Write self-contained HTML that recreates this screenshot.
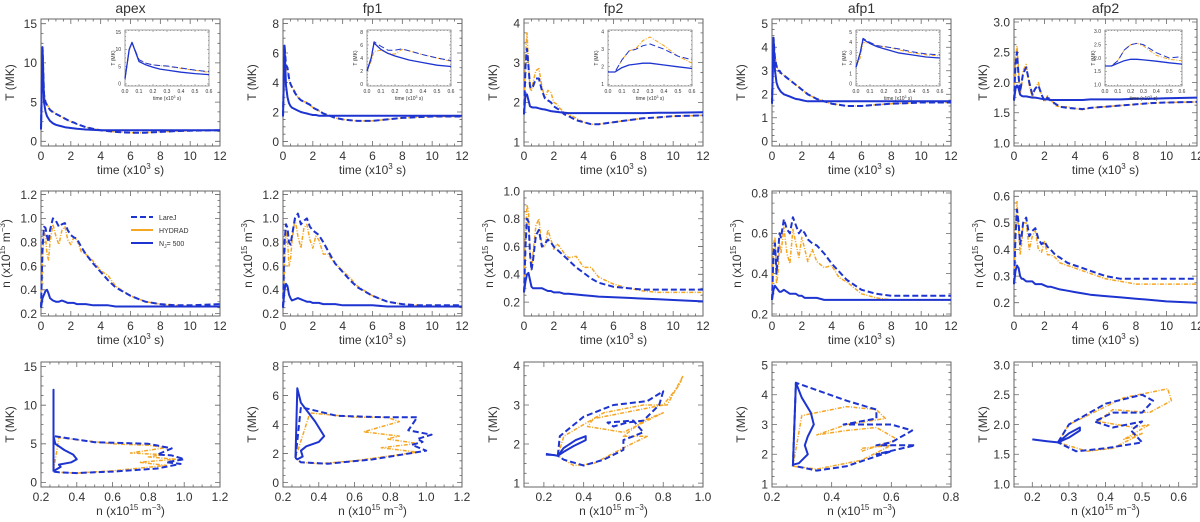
<!DOCTYPE html>
<html><head><meta charset="utf-8">
<style>
html,body{margin:0;padding:0;background:#fff;}
svg{display:block;font-family:"Liberation Sans",sans-serif;}
</style></head>
<body>
<svg id="fig" width="1200" height="522" viewBox="0 0 1200 522" xmlns="http://www.w3.org/2000/svg"></svg>
<script>
// ---------- DATA ----------
const panelNames = ["apex","fp1","fp2","afp1","afp2"];
const timeGrid = [0,0.1,0.2,0.3,0.4,0.5,0.6,0.8,1.0,1.2,1.4,1.6,1.8,2.0,2.2,2.4,2.7,3.0,3.5,4,4.5,5,6,7,8,9,10,12];
const insetGrid = [0,0.03,0.05,0.1,0.15,0.2,0.25,0.3,0.4,0.5,0.6];

// Temperature (MK) vs time
const tempLareJ = [
 [1.5,12,6,5,4.6,4.3,4,3.7,3.5,3.3,3.1,2.9,2.7,2.5,2.4,2.2,2.0,1.8,1.6,1.4,1.3,1.2,1.1,1.1,1.2,1.3,1.35,1.4],
 [1.7,6.5,5.2,5.0,4.3,3.9,3.7,3.3,3.0,2.8,2.7,2.6,2.5,2.3,2.2,2.1,1.9,1.8,1.6,1.5,1.45,1.4,1.4,1.5,1.6,1.65,1.7,1.7],
 [1.7,2.9,3.35,2.9,2.4,2.35,2.4,2.6,2.6,2.3,2.1,2.05,2.0,1.9,1.85,1.8,1.7,1.65,1.55,1.5,1.45,1.45,1.5,1.55,1.6,1.62,1.65,1.67],
 [1.6,4.4,3.5,3.2,3.0,3.0,2.9,2.8,2.7,2.6,2.5,2.4,2.3,2.2,2.1,2.0,1.9,1.8,1.7,1.6,1.55,1.5,1.5,1.55,1.6,1.62,1.65,1.65],
 [1.7,2.3,2.5,2.1,1.85,2.0,2.15,2.25,2.0,1.8,1.9,1.95,1.8,1.7,1.75,1.7,1.65,1.6,1.58,1.57,1.56,1.58,1.6,1.62,1.64,1.66,1.67,1.68]];
const tempHydrad = [
 [1.5,11.8,6,5.1,4.7,4.4,4.1,3.8,3.5,3.3,3.1,2.9,2.7,2.5,2.4,2.2,2.0,1.8,1.6,1.4,1.3,1.2,1.1,1.1,1.2,1.3,1.35,1.4],
 [1.7,4.5,5,4.8,4.2,3.9,3.7,3.4,3.0,2.8,2.7,2.65,2.5,2.3,2.2,2.1,1.9,1.8,1.6,1.5,1.45,1.4,1.4,1.5,1.6,1.65,1.7,1.7],
 [1.7,3.2,3.75,3.0,2.35,2.3,2.5,2.8,2.85,2.4,2.1,2.3,2.25,2.0,1.95,1.85,1.75,1.7,1.6,1.5,1.45,1.45,1.5,1.55,1.6,1.62,1.65,1.67],
 [1.6,3.5,3.6,3.3,3.0,2.9,2.9,2.8,2.7,2.6,2.5,2.4,2.3,2.2,2.1,2.0,1.9,1.8,1.7,1.6,1.55,1.5,1.5,1.55,1.6,1.62,1.65,1.65],
 [1.7,2.4,2.6,2.2,1.8,1.95,2.2,2.3,1.95,1.75,1.9,2.0,1.8,1.68,1.78,1.72,1.62,1.6,1.6,1.57,1.55,1.58,1.6,1.62,1.64,1.66,1.67,1.68]];
const tempN500 = [
 [1.5,12,5,3.8,3.2,2.9,2.6,2.3,2.1,2.0,1.9,1.8,1.75,1.7,1.65,1.6,1.55,1.5,1.45,1.4,1.4,1.4,1.4,1.4,1.4,1.4,1.4,1.4],
 [1.7,6.5,3.8,3.0,2.6,2.4,2.3,2.2,2.1,2.0,1.95,1.9,1.85,1.8,1.8,1.75,1.75,1.75,1.75,1.75,1.75,1.75,1.75,1.75,1.75,1.75,1.75,1.75],
 [1.7,2.2,2.2,2.05,1.9,1.88,1.87,1.87,1.85,1.83,1.82,1.8,1.78,1.77,1.76,1.75,1.74,1.73,1.73,1.73,1.73,1.73,1.73,1.73,1.73,1.74,1.74,1.75],
 [1.6,4.4,3.0,2.5,2.3,2.2,2.1,2.0,1.95,1.9,1.85,1.8,1.78,1.75,1.72,1.7,1.7,1.7,1.7,1.7,1.7,1.7,1.7,1.7,1.7,1.7,1.7,1.7],
 [1.7,1.9,1.95,1.9,1.8,1.78,1.77,1.77,1.76,1.75,1.75,1.74,1.73,1.72,1.72,1.71,1.71,1.71,1.71,1.71,1.71,1.72,1.72,1.72,1.73,1.73,1.74,1.75]];

// Inset temperatures (first 0.6 x10^3 s)
const insetLareJ = [
 [1.5,10,12,7,6,5.5,5.3,5.2,4.6,4,3.5],
 [2,4,6.5,5.8,5.2,5.2,5.4,5.1,4.5,4.0,3.6],
 [1.7,1.7,1.7,2.4,2.9,3.0,3.2,3.3,3.0,2.6,2.4],
 [1.6,3,4.4,4,3.7,3.6,3.5,3.4,3.1,2.9,2.8],
 [1.7,1.7,1.7,1.9,2.3,2.5,2.55,2.5,2.2,2.0,2.05]];
const insetHydrad = [
 [1.5,9.5,11.8,7,6,5.5,5.3,5.1,4.5,3.9,3.4],
 [2,3.5,5,5.2,4.7,4.6,5.3,5.1,4.5,4.0,3.5],
 [1.7,1.7,1.7,2.4,2.9,3.05,3.5,3.7,3.2,2.6,2.2],
 [1.6,2.5,4,3.9,3.7,3.6,3.5,3.3,3.0,2.8,2.7],
 [1.7,1.7,1.7,1.9,2.3,2.5,2.55,2.45,2.1,1.95,1.9]];
const insetN500 = [
 [1.5,10,12,6.5,5.5,4.8,4.3,4,3.4,3,2.7],
 [2,4,6.3,5.3,4.7,4.3,4.0,3.7,3.3,2.9,2.7],
 [1.7,1.7,1.7,1.95,2.1,2.15,2.2,2.2,2.1,2.0,1.9],
 [1.6,3,4.3,3.9,3.6,3.4,3.2,3.0,2.8,2.6,2.5],
 [1.7,1.7,1.7,1.8,1.9,1.95,1.95,1.93,1.88,1.82,1.77]];

// Density (x10^15 m^-3) vs time
const densLareJ = [
 [0.25,0.75,0.93,0.92,0.85,0.8,0.9,1.0,0.98,0.93,0.95,0.96,0.9,0.86,0.84,0.83,0.76,0.7,0.62,0.55,0.48,0.42,0.35,0.3,0.28,0.27,0.27,0.28],
 [0.25,0.8,0.95,0.92,0.8,0.78,0.85,1.0,1.04,0.95,0.98,1.0,0.93,0.9,0.88,0.86,0.8,0.73,0.62,0.55,0.48,0.42,0.35,0.3,0.28,0.27,0.27,0.27],
 [0.27,0.6,0.8,0.78,0.55,0.43,0.5,0.68,0.72,0.6,0.62,0.65,0.63,0.6,0.58,0.56,0.53,0.5,0.45,0.41,0.37,0.34,0.31,0.3,0.29,0.29,0.29,0.29],
 [0.27,0.5,0.55,0.4,0.5,0.6,0.58,0.67,0.62,0.6,0.68,0.64,0.6,0.62,0.6,0.57,0.55,0.54,0.5,0.45,0.41,0.37,0.32,0.3,0.29,0.29,0.29,0.29],
 [0.27,0.45,0.55,0.5,0.42,0.45,0.5,0.52,0.45,0.47,0.48,0.44,0.42,0.43,0.41,0.4,0.38,0.37,0.35,0.34,0.33,0.32,0.3,0.29,0.29,0.29,0.29,0.29]];
const densHydrad = [
 [0.25,0.65,0.9,0.85,0.7,0.65,0.8,0.95,0.85,0.78,0.9,0.93,0.82,0.78,0.84,0.82,0.72,0.7,0.64,0.56,0.52,0.43,0.35,0.3,0.28,0.27,0.26,0.26],
 [0.25,0.6,0.9,0.82,0.6,0.65,0.8,1.0,0.85,0.75,0.92,0.95,0.82,0.75,0.85,0.82,0.7,0.7,0.62,0.56,0.5,0.43,0.35,0.3,0.28,0.27,0.26,0.26],
 [0.27,0.7,0.9,0.85,0.55,0.43,0.55,0.75,0.8,0.6,0.6,0.72,0.65,0.58,0.62,0.6,0.55,0.52,0.53,0.45,0.45,0.38,0.33,0.3,0.28,0.27,0.27,0.27],
 [0.27,0.55,0.58,0.35,0.4,0.55,0.5,0.63,0.5,0.45,0.62,0.55,0.48,0.58,0.52,0.46,0.52,0.46,0.43,0.44,0.38,0.36,0.3,0.28,0.27,0.27,0.27,0.27],
 [0.27,0.5,0.58,0.48,0.38,0.42,0.5,0.5,0.4,0.45,0.47,0.4,0.39,0.43,0.38,0.38,0.37,0.35,0.34,0.33,0.32,0.31,0.29,0.28,0.27,0.27,0.27,0.27]];
const densN500 = [
 [0.25,0.33,0.36,0.39,0.4,0.37,0.33,0.31,0.3,0.3,0.31,0.3,0.29,0.29,0.29,0.28,0.28,0.28,0.27,0.27,0.27,0.26,0.26,0.26,0.26,0.26,0.26,0.26],
 [0.25,0.4,0.45,0.43,0.36,0.33,0.31,0.32,0.33,0.32,0.31,0.3,0.3,0.29,0.29,0.29,0.28,0.28,0.28,0.27,0.27,0.27,0.27,0.26,0.26,0.26,0.26,0.26],
 [0.27,0.35,0.4,0.41,0.36,0.31,0.3,0.3,0.3,0.3,0.29,0.28,0.28,0.27,0.27,0.27,0.26,0.26,0.255,0.25,0.245,0.24,0.235,0.23,0.225,0.22,0.215,0.205],
 [0.27,0.32,0.34,0.33,0.32,0.31,0.31,0.32,0.31,0.3,0.3,0.3,0.29,0.29,0.28,0.28,0.28,0.28,0.27,0.27,0.27,0.27,0.27,0.27,0.27,0.27,0.27,0.27],
 [0.27,0.32,0.34,0.33,0.3,0.29,0.29,0.28,0.28,0.28,0.27,0.27,0.27,0.265,0.26,0.26,0.255,0.25,0.245,0.24,0.235,0.23,0.225,0.22,0.215,0.21,0.205,0.2]];

// Phase plots: density and temperature pairs
const phaseLareJN = [
 [0.27,0.27,0.5,0.8,0.93,0.85,0.93,1.0,0.9,0.98,0.85,0.6,0.4,0.3,0.27],
 [0.27,0.3,0.5,0.75,0.95,0.9,1.03,0.95,0.98,0.92,1.0,0.7,0.45,0.3,0.27],
 [0.27,0.28,0.4,0.55,0.72,0.8,0.78,0.7,0.62,0.55,0.52,0.65,0.7,0.6,0.6,0.5,0.4,0.3,0.27],
 [0.27,0.28,0.45,0.55,0.55,0.44,0.6,0.67,0.6,0.55,0.68,0.55,0.6,0.45,0.35,0.28],
 [0.27,0.3,0.4,0.5,0.53,0.5,0.42,0.37,0.42,0.5,0.47,0.5,0.4,0.32,0.27]];
const phaseLareJT = [
 [1.5,6,5.2,5,4.4,3.6,3.5,3.0,2.6,2.4,1.8,1.4,1.2,1.3,1.4],
 [1.7,5.2,4.6,4.5,4.5,3.6,3.3,3.0,2.8,2.6,2.2,1.6,1.3,1.4,1.7],
 [1.7,2.2,2.7,3.0,3.1,3.35,3.0,2.6,2.55,2.45,2.55,2.6,2.3,2.1,1.85,1.6,1.45,1.6,1.7],
 [1.6,4.4,3.8,3.5,3.2,3.0,3.0,2.8,2.4,2.3,2.3,2.0,2.1,1.6,1.45,1.6],
 [1.7,2.0,2.35,2.5,2.4,2.2,2.2,2.05,1.95,2.05,1.9,1.7,1.6,1.55,1.7]];
const phaseHydradN = [
 [0.27,0.3,0.6,0.8,0.9,0.7,0.88,0.8,0.95,0.75,0.9,0.6,0.4,0.3,0.27],
 [0.27,0.35,0.6,0.78,0.85,0.65,0.85,0.78,0.95,0.75,0.95,0.6,0.4,0.3,0.27],
 [0.27,0.3,0.5,0.7,0.82,0.9,0.88,0.8,0.6,0.45,0.42,0.6,0.8,0.7,0.6,0.72,0.6,0.45,0.35,0.27],
 [0.27,0.3,0.45,0.55,0.58,0.45,0.35,0.45,0.55,0.62,0.5,0.5,0.6,0.5,0.35,0.27],
 [0.27,0.3,0.45,0.57,0.58,0.52,0.42,0.38,0.48,0.52,0.45,0.5,0.42,0.35,0.27]];
const phaseHydradT = [
 [1.5,5.8,5.0,4.8,4.5,3.8,3.6,3.3,3.0,2.6,2.2,1.5,1.2,1.3,1.4],
 [1.7,4.8,4.5,4.5,4.2,3.5,3.2,3.0,2.7,2.4,2.1,1.5,1.3,1.4,1.7],
 [1.7,2.2,2.8,3.0,3.0,3.75,3.5,3.0,2.8,2.65,2.45,2.3,2.8,2.6,2.2,2.2,1.9,1.5,1.45,1.7],
 [1.6,3.3,3.6,3.5,3.2,3.0,2.65,2.8,2.9,2.5,2.1,2.2,2.3,1.8,1.5,1.6],
 [1.7,2.0,2.45,2.6,2.4,2.2,2.25,2.05,1.95,2.0,1.75,1.85,1.6,1.55,1.7]];
const phaseN500N = [
 [0.27,0.27,0.27,0.27,0.28,0.33,0.38,0.40,0.37,0.30,0.31,0.28,0.27,0.27],
 [0.27,0.28,0.3,0.38,0.43,0.4,0.33,0.3,0.31,0.28,0.27],
 [0.21,0.27,0.3,0.36,0.41,0.41,0.35,0.3,0.27,0.25,0.21],
 [0.27,0.28,0.3,0.33,0.34,0.32,0.31,0.32,0.29,0.27,0.27],
 [0.2,0.24,0.27,0.3,0.33,0.33,0.3,0.27,0.28]];
const phaseN500T = [
 [1.5,12,8,6,5,4.2,3.6,3.0,2.6,2.3,2.0,1.6,1.5,1.4],
 [1.7,6.5,5.5,4.2,3.2,2.8,2.5,2.2,1.8,1.6,1.7],
 [1.75,1.7,1.9,2.1,2.2,2.1,1.95,1.8,1.7,1.72,1.73],
 [1.6,4.4,3.9,3.4,3.0,2.6,2.3,2.0,1.7,1.65,1.6],
 [1.75,1.72,1.7,1.85,1.95,1.9,1.78,1.7,1.68]];

// Tick labels
const tempTicks = [[0,5,10,15],[0,2,4,6,8],[1,2,3,4],[0,1,2,3,4,5],[1.0,1.5,2.0,2.5,3.0]];
const densTicks = [[0.2,0.4,0.6,0.8,1.0,1.2],[0.2,0.4,0.6,0.8,1.0,1.2],[0.2,0.4,0.6,0.8,1.0],[0.2,0.4,0.6,0.8],[0.2,0.3,0.4,0.5,0.6]];
const phaseXTicks = [[0.2,0.4,0.6,0.8,1.0,1.2],[0.2,0.4,0.6,0.8,1.0,1.2],[0.2,0.4,0.6,0.8,1.0],[0.2,0.4,0.6,0.8],[0.2,0.3,0.4,0.5,0.6]];
const phaseYTicks = [[0,5,10,15],[0,2,4,6,8],[1,2,3,4],[1,2,3,4,5],[1.0,1.5,2.0,2.5,3.0]];
const timeTicks = [0,2,4,6,8,10,12];
const insetTimeTicks = [0.0,0.1,0.2,0.3,0.4,0.5,0.6];

// ---------- LAYOUT (not data) ----------
const colLeft = [41,283,524,772,1014];
const colWidth = [179,179,179,179,183];
const rowBox = [[19,146],[191,316],[362,487]];
const tempRange = [[-0.6,15.6],[-0.3,8.3],[0.9,4.1],[-0.2,5.2],[0.95,3.05]];
const densRange = [[0.18,1.23],[0.18,1.23],[0.1,1.0],[0.19,0.81],[0.15,0.62]];
const phaseXRange = [[0.2,1.2],[0.2,1.2],[0.1,1.0],[0.2,0.8],[0.15,0.65]];
const phaseYRange = [[-0.6,15.6],[-0.3,8.3],[0.9,4.1],[0.9,5.1],[0.95,3.05]];

const NS = "http://www.w3.org/2000/svg";
const svg = document.getElementById('fig');
const BLUE = "#1d34d0", ORANGE = "#f5a623", AXC = "#666";
function mk(tag, attrs, parent){
  const e = document.createElementNS(NS, tag);
  for (const k in attrs) e.setAttribute(k, attrs[k]);
  (parent||svg).appendChild(e);
  return e;
}
function fmt(v, ticks){
  const dec = ticks.some(t => Math.abs(t - Math.round(t)) > 1e-9) ? 1 : 0;
  return dec ? v.toFixed(1) : String(v);
}
function series(g, xs, ys, sx, sy, style, name){
  let d = "";
  for (let i=0;i<xs.length;i++){ d += (i?"L":"M") + sx(xs[i]).toFixed(1) + "," + sy(ys[i]).toFixed(1); }
  const p = mk('path', {d:d, fill:'none', 'stroke-linejoin':'round'}, g);
  
  
  if (style==='dash'){ p.setAttribute('stroke',BLUE); p.setAttribute('stroke-width','2'); p.setAttribute('stroke-dasharray','6,3'); }
  else if (style==='orange'){ p.setAttribute('stroke',ORANGE); p.setAttribute('stroke-width','1.5'); p.setAttribute('stroke-dasharray','4,1.5,1,1.5'); }
  else { p.setAttribute('stroke',BLUE); p.setAttribute('stroke-width','2'); }
  return p;
}
function axesBox(g, x0, x1, y0, y1, xr, yr, xt, yt, fs, tl, xtFmt, ytFmt){
  const sx = v => x0 + (v - xr[0])/(xr[1]-xr[0])*(x1-x0);
  const sy = v => y1 - (v - yr[0])/(yr[1]-yr[0])*(y1-y0);
  const box = mk('rect',{x:x0,y:y0,width:x1-x0,height:y1-y0,fill:'none',stroke:AXC,'stroke-width':fs>8?1:0.6},g);
  
  
  let d = "";
  xt.forEach(v=>{ const X=sx(v); d+=`M${X},${y1}v${-tl}M${X},${y0}v${tl}`; });
  yt.forEach(v=>{ const Y=sy(v); d+=`M${x0},${Y}h${tl}M${x1},${Y}h${-tl}`; });
  for (let i=0;i<xt.length-1;i++){ for(let k=1;k<4;k++){ const X=sx(xt[i]+(xt[i+1]-xt[i])*k/4); d+=`M${X},${y1}v${-tl/2}M${X},${y0}v${tl/2}`; } }
  for (let i=0;i<yt.length-1;i++){ for(let k=1;k<4;k++){ const Y=sy(yt[i]+(yt[i+1]-yt[i])*k/4); d+=`M${x0},${Y}h${tl/2}M${x1},${Y}h${-tl/2}`; } }
  mk('path',{d:d,stroke:AXC,'stroke-width':fs>8?0.8:0.5,fill:'none'},g);
  xt.forEach(v=>{ const t=mk('text',{x:sx(v),y:y1+fs+2,'font-size':fs,'text-anchor':'middle',fill:'#333'},g); t.textContent=xtFmt(v);
      });
  yt.forEach(v=>{ const t=mk('text',{x:x0-4,y:sy(v)+fs*0.36,'font-size':fs,'text-anchor':'end',fill:'#333'},g); t.textContent=ytFmt(v);
      });
  return {sx, sy};
}
function ylabel(g, x, y, html, name){
  const t = mk('text',{x:x,y:y,'font-size':12,'text-anchor':'middle',fill:'#333',transform:`rotate(-90 ${x} ${y})`},g);
  t.innerHTML = html;
  
  
}
function xlabel(g, x, y, html, name){
  const t = mk('text',{x:x,y:y,'font-size':12,'text-anchor':'middle',fill:'#333'},g);
  t.innerHTML = html;
  
  
}
const timeTitle = 'time (x10<tspan dy="-5" font-size="8">3</tspan><tspan dy="5"> s)</tspan>';
const densTitle = 'n (x10<tspan dy="-5" font-size="8">15</tspan><tspan dy="5"> m</tspan><tspan dy="-5" font-size="8">−3</tspan><tspan dy="5">)</tspan>';

for (let c=0;c<5;c++){
  const L = colLeft[c], R = colLeft[c]+colWidth[c], cx=(L+R)/2;
  const f1 = v=>fmt(v,tempTicks[c]);
  const tt = mk('text',{x:cx,y:13,'font-size':14,'text-anchor':'middle',fill:'#333'});
  tt.textContent = panelNames[c];
  
  

  // Row 1: temperature
  let g = mk('g',{});
  
  
  let a = axesBox(g,L,R,rowBox[0][0],rowBox[0][1],[0,12],tempRange[c],timeTicks,tempTicks[c],12,5,v=>String(v),f1);
  series(g,timeGrid,tempHydrad[c],a.sx,a.sy,'orange','hydrad-temperature-line');
  series(g,timeGrid,tempLareJ[c],a.sx,a.sy,'dash','larej-temperature-line');
  series(g,timeGrid,tempN500[c],a.sx,a.sy,'solid','n500-temperature-line');
  ylabel(g,L-27,(rowBox[0][0]+rowBox[0][1])/2,'T (MK)','temperature-y-axis-title');
  xlabel(g,cx,rowBox[0][1]+28,timeTitle,'time-x-axis-title');
  // inset
  const iw = c===4?77:84, il = c===4?L+91:L+84;
  const ig = mk('g',{},g);
  
  
  mk('rect',{x:il,y:30,width:iw,height:56,fill:'#fff'},ig);
  let b = axesBox(ig,il,il+iw,30,86,[0,0.6],tempRange[c],insetTimeTicks,tempTicks[c],5,2,v=>v.toFixed(1),f1);
  series(ig,insetGrid,insetHydrad[c],b.sx,b.sy,'orange','inset-hydrad-line').setAttribute('stroke-width','1');
  series(ig,insetGrid,insetLareJ[c],b.sx,b.sy,'dash','inset-larej-line').setAttribute('stroke-width','1');
  series(ig,insetGrid,insetN500[c],b.sx,b.sy,'solid','inset-n500-line').setAttribute('stroke-width','1.3');
  const ix = mk('text',{x:il+iw/2,y:100,'font-size':5,'text-anchor':'middle',fill:'#333'},ig);
  ix.innerHTML='time (x10<tspan dy="-2" font-size="3.5">3</tspan><tspan dy="2"> s)</tspan>';
   
  const iy = mk('text',{x:il-10,y:58,'font-size':5,'text-anchor':'middle',fill:'#333',transform:`rotate(-90 ${il-10} 58)`},ig);
  iy.textContent='T (MK)';
   

  // Row 2: density
  g = mk('g',{});
  
  
  a = axesBox(g,L,R,rowBox[1][0],rowBox[1][1],[0,12],densRange[c],timeTicks,densTicks[c],12,5,v=>String(v),v=>v.toFixed(1));
  series(g,timeGrid,densHydrad[c],a.sx,a.sy,'orange','hydrad-density-line');
  series(g,timeGrid,densLareJ[c],a.sx,a.sy,'dash','larej-density-line');
  series(g,timeGrid,densN500[c],a.sx,a.sy,'solid','n500-density-line');
  ylabel(g,L-31,(rowBox[1][0]+rowBox[1][1])/2,densTitle,'density-y-axis-title');
  xlabel(g,cx,rowBox[1][1]+28,timeTitle,'time-x-axis-title');

  // Row 3: phase
  g = mk('g',{});
  
  
  a = axesBox(g,L,R,rowBox[2][0],rowBox[2][1],phaseXRange[c],phaseYRange[c],phaseXTicks[c],phaseYTicks[c],12,5,v=>v.toFixed(1),v=>fmt(v,phaseYTicks[c]));
  series(g,phaseHydradN[c],phaseHydradT[c],a.sx,a.sy,'orange','hydrad-phase-line');
  series(g,phaseLareJN[c],phaseLareJT[c],a.sx,a.sy,'dash','larej-phase-line');
  series(g,phaseN500N[c],phaseN500T[c],a.sx,a.sy,'solid','n500-phase-line');
  ylabel(g,L-27,(rowBox[2][0]+rowBox[2][1])/2,'T (MK)','temperature-y-axis-title');
  xlabel(g,cx,rowBox[2][1]+28,densTitle,'density-x-axis-title');
}

// Legend in apex density panel
const lg = mk('g',{});


const legendLabels = ['LareJ','HYDRAD','N'];
const legendStyles = ['dash','orange','solid'];
legendLabels.forEach((lab,i)=>{
  const y = 217 + i*13;
  const ln = mk('line',{x1:131,y1:y,x2:153,y2:y,stroke:legendStyles[i]==='orange'?ORANGE:BLUE,'stroke-width':2},lg);
  if (legendStyles[i]==='dash') ln.setAttribute('stroke-dasharray','6,3');
  
  
  const t = mk('text',{x:159,y:y+3,'font-size':7,fill:'#333'},lg);
  if (i===2) t.innerHTML='N<tspan dy="2" font-size="5">J</tspan><tspan dy="-2">= 500</tspan>'; else t.textContent=lab;
  
  
});
</script>
</body></html>
